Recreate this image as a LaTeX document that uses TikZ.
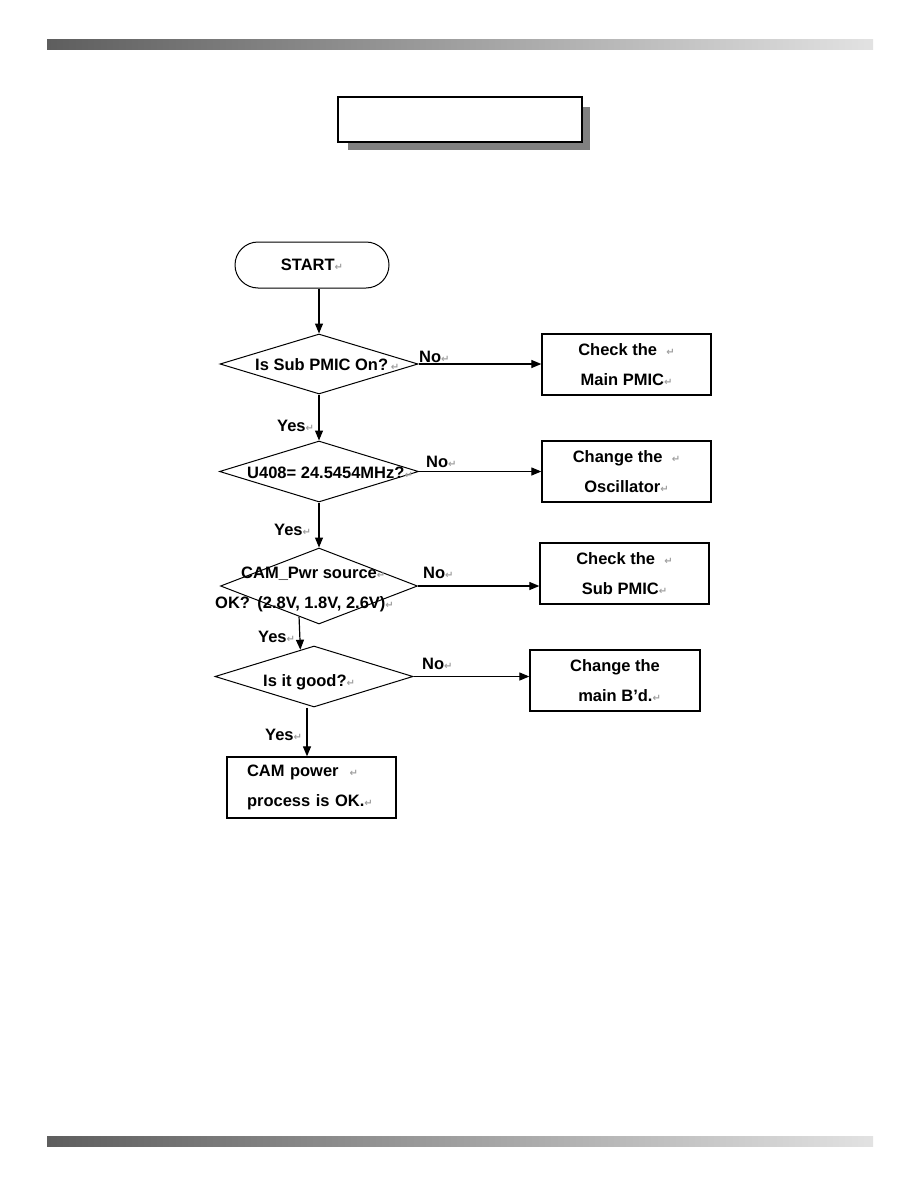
\documentclass[tikz,border=0pt]{standalone}
\usepackage{fontspec}
\setmainfont{Liberation Sans}
\newfontfamily\retfont{DejaVu Sans}
\usetikzlibrary{arrows.meta,shapes.geometric,calc}
\definecolor{barleft}{HTML}{5E5E5E}
\definecolor{barright}{HTML}{E2E2E2}
\definecolor{shadowgray}{HTML}{808080}
\definecolor{retgray}{HTML}{A0A0A0}
\newcommand{\ret}{{\retfont\fontsize{10}{10}\selectfont\textcolor{retgray}{↵}}}

\begin{document}
\begin{tikzpicture}[x=1pt,y=-1pt,
  txt/.style={font=\fontsize{16.5}{30}\selectfont\bfseries,inner sep=0pt},
  decision/.style={diamond,draw,line width=1pt,inner sep=0pt,minimum width=198pt},
  stepbox/.style={rectangle,draw,line width=1.3pt,minimum width=169pt,minimum height=61pt,
    txt,align=center},
  arr/.style={line width=1.2pt,-{Triangle[length=10pt,width=8pt]}}]
  \useasboundingbox (0,0) rectangle (918,1188);

  % page bars
  \shade[left color=barleft,right color=barright] (47,40) rectangle (873,50);
  \shade[left color=barleft,right color=barright] (47,1136) rectangle (873,1146);

  % title box with shadow
  \fill[shadowgray] (348,107) rectangle (590,150);
  \draw[fill=white,line width=1.5pt] (338,97) rectangle (582,142);

  % start
  \node[draw,line width=1pt,rounded corners=23pt,minimum width=154pt,minimum height=46pt,txt]
    (start) at (312,265) {START\ret};

  % decisions
  \node[decision,minimum height=60pt] (q1) at (319,364) {};
  \node[decision,minimum height=61pt,minimum width=199pt] (q2) at (319,471.5) {};
  \node[decision,minimum height=76pt,minimum width=197pt] (q3) at (319,586) {};
  \node[decision,minimum height=61pt] (q4) at (314,676.5) {};

  \node[txt,anchor=base west] (q1t) at (255,370) {Is Sub PMIC On?\,\ret};
  \node[txt,anchor=base west] (q2t) at (247,478) {U408= 24.5454MHz?\ret};
  \node[txt,anchor=base west] (q3t) at (241,578) {CAM\_Pwr source\ret};
  \node[txt,anchor=base west] (q3u) at (215,608) {OK?\ \,(2.8V, 1.8V, 2.6V)\ret};
  \node[txt,anchor=base west] (q4t) at (263,686) {Is it good?\ret};

  % results
  \node[stepbox] (b1) at (626.5,364.5) {Check the\ \ \ret\\Main PMIC\ret};
  \node[stepbox] (b2) at (626.5,471.5) {Change the\ \ \ret\\Oscillator\ret};
  \node[stepbox] (b3) at (624.5,573.5) {Check the\ \ \ret\\Sub PMIC\ret};
  \node[stepbox,minimum width=170pt] (b4) at (615,680.5) {Change the\\\ \ main B'd.\ret};
  \node[stepbox,align=left,text width=129pt,inner xsep=20pt] (b5) at (311.5,787.5)
    {CAM power\ \ \ret\\process is OK.\ret};

  % yes / no labels
  \node[txt,anchor=base west] (no1) at (419,362) {No\ret};
  \node[txt,anchor=base west] (no2) at (426,467) {No\ret};
  \node[txt,anchor=base west] (no3) at (423,578) {No\ret};
  \node[txt,anchor=base west] (no4) at (422,669) {No\ret};
  \node[txt,anchor=base west] (yes1) at (277,431) {Yes\ret};
  \node[txt,anchor=base west] (yes2) at (274,535) {Yes\ret};
  \node[txt,anchor=base west] (yes3) at (258,642) {Yes\ret};
  \node[txt,anchor=base west] (yes4) at (265,740) {Yes\ret};

  % connectors
  \draw[arr] (start.south -| q1.north) -- (q1.north);
  \draw[arr] (q1.east) -- (q1.east -| b1.west);
  \draw[arr] (q1.south) -- (q2.north);
  \draw[arr] (q2.east) -- (q2.east -| b2.west);
  \draw[arr] (q2.south) -- (q3.north);
  \draw[arr] (q3.east) -- (q3.east -| b3.west);
  \draw[arr] (q3.237.4) -- (q4.117.8);
  \draw[arr] (q4.east) -- (q4.east -| b4.west);
  \coordinate (y4) at ($(q4.south)+(-7,0)$);
  \draw[arr] (y4) -- (y4 |- b5.north);
\end{tikzpicture}
\end{document}
